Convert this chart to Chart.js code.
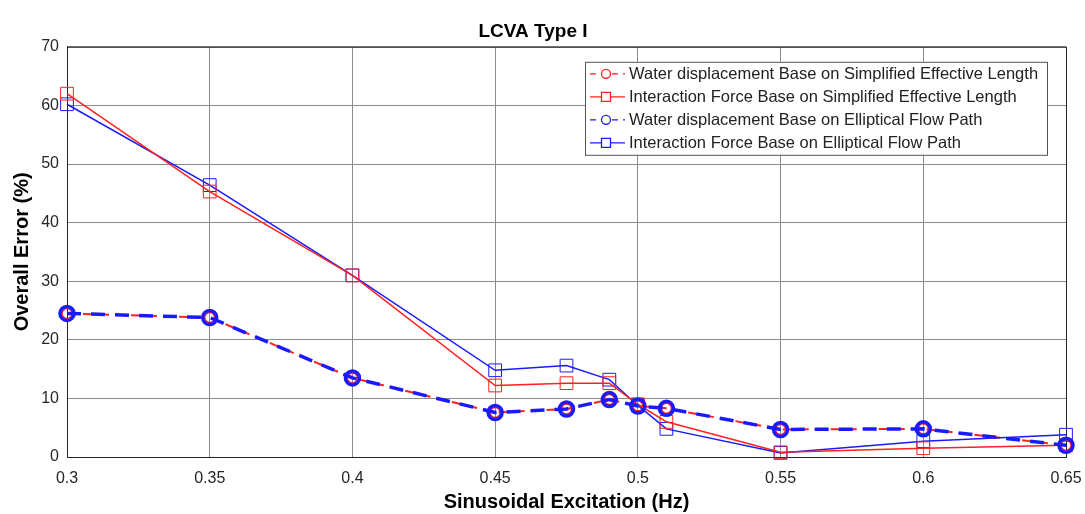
<!DOCTYPE html>
<html>
<head>
<meta charset="utf-8">
<script src="https://cdn.jsdelivr.net/npm/chart.js@4.4.1/dist/chart.umd.min.js"></script>
<style>
  body { margin: 0; background: #fff; }
  #contenedor { width: 1085px; height: 514px; }
</style>
</head>
<body>
<div id="contenedor"><canvas id="graficoError"></canvas></div>
<script>
// Datos
const frecuencias = [0.3, 0.35, 0.4, 0.45, 0.475, 0.49, 0.5, 0.51, 0.55, 0.6, 0.65];
const aguaSimplificada = [24.5, 23.8, 13.5, 7.6, 8.2, 9.8, 8.7, 8.3, 4.7, 4.8, 2.0];
const fuerzaSimplificada = [62.0, 45.3, 31.0, 12.2, 12.6, 12.6, 9.0, 6.0, 0.8, 1.5, 2.0];
const aguaEliptica = [24.5, 23.8, 13.5, 7.6, 8.2, 9.8, 8.7, 8.3, 4.7, 4.8, 2.0];
const fuerzaEliptica = [60.2, 46.4, 31.0, 14.8, 15.6, 13.2, 8.8, 4.8, 0.7, 2.7, 3.8];
const ticksX = [0.3, 0.35, 0.4, 0.45, 0.5, 0.55, 0.6, 0.65];
const ticksY = [0, 10, 20, 30, 40, 50, 60, 70];

const fuente = '"Liberation Sans", Arial, sans-serif';
const ROJO = '#ff2020';
const AZUL = '#1a1aff';

function puntos(valores) {
    return frecuencias.map((f, i) => ({ x: f, y: valores[i] }));
}

// Leyenda dentro del area del grafico (arriba a la derecha)
const leyendaInterna = {
    id: 'leyendaInterna',
    afterDraw(chart) {
        const ctx = chart.ctx;
        const area = chart.chartArea;
        const ancho = 462, alto = 93;
        const x0 = area.right - 19 - ancho;
        const y0 = area.top + 15;
        ctx.save();
        ctx.fillStyle = '#fff';
        ctx.fillRect(x0, y0, ancho, alto);
        ctx.strokeStyle = '#555';
        ctx.lineWidth = 1;
        ctx.strokeRect(x0 + 0.5, y0 + 0.5, ancho, alto);
        ctx.font = '16.5px ' + fuente;
        ctx.textBaseline = 'middle';
        chart.data.datasets.forEach((ds, i) => {
            const y = y0 + 12 + i * 23;
            const color = ds.borderColor;
            ctx.strokeStyle = color;
            ctx.lineWidth = 1.3;
            ctx.setLineDash(ds.borderDash && ds.borderDash.length ? [6, 5] : []);
            ctx.beginPath();
            ctx.moveTo(x0 + 5, y);
            ctx.lineTo(x0 + 40, y);
            ctx.stroke();
            ctx.setLineDash([]);
            ctx.fillStyle = '#fff';
            ctx.beginPath();
            if (ds.pointStyle === 'circle') {
                ctx.arc(x0 + 21, y, 4.5, 0, Math.PI * 2);
            } else {
                ctx.rect(x0 + 16.5, y - 4.5, 9, 9);
            }
            ctx.fill();
            ctx.stroke();
            ctx.fillStyle = '#222';
            ctx.fillText(ds.label, x0 + 44, y + 1);
        });
        ctx.restore();
    }
};

// Marco completo del area de trazado
const marco = {
    id: 'marco',
    beforeDatasetsDraw(chart) {
        const a = chart.chartArea;
        const ctx = chart.ctx;
        ctx.save();
        ctx.strokeStyle = '#262626';
        ctx.lineWidth = 1;
        ctx.strokeRect(a.left + 0.5, a.top + 0.5, a.right - a.left, a.bottom - a.top);
        ctx.restore();
    }
};

const ctx = document.getElementById('graficoError').getContext('2d');
window.grafico = new Chart(ctx, {
    type: 'scatter',
    data: {
        datasets: [
            {
                label: 'Water displacement Base on Simplified Effective Length',
                data: puntos(aguaSimplificada),
                showLine: true,
                clip: false,
                borderColor: ROJO,
                backgroundColor: 'rgba(255,255,255,0)',
                borderWidth: 2,
                borderDash: [10, 6],
                pointStyle: 'circle',
                pointRadius: 5,
                pointBorderWidth: 1.5,
                order: 2
            },
            {
                label: 'Interaction Force Base on Simplified Effective Length',
                data: puntos(fuerzaSimplificada),
                showLine: true,
                clip: false,
                borderColor: ROJO,
                backgroundColor: 'rgba(255,255,255,0)',
                borderWidth: 1.5,
                pointStyle: 'rect',
                pointRadius: 9,
                pointBorderWidth: 1,
                order: 1
            },
            {
                label: 'Water displacement Base on Elliptical Flow Path',
                data: puntos(aguaEliptica),
                showLine: true,
                clip: false,
                borderColor: AZUL,
                backgroundColor: 'rgba(255,255,255,0)',
                borderWidth: 3.5,
                borderDash: [14, 10],
                pointStyle: 'circle',
                pointRadius: 7,
                pointBorderWidth: 3.5,
                order: 0
            },
            {
                label: 'Interaction Force Base on Elliptical Flow Path',
                data: puntos(fuerzaEliptica),
                showLine: true,
                clip: false,
                borderColor: AZUL,
                backgroundColor: 'rgba(255,255,255,0)',
                borderWidth: 1.5,
                pointStyle: 'rect',
                pointRadius: 9,
                pointBorderWidth: 1,
                order: 1
            }
        ]
    },
    options: {
        responsive: true,
        maintainAspectRatio: false,
        animation: false,
        layout: { padding: { left: 0, right: 19, top: 0, bottom: 0 } },
        plugins: {
            legend: { display: false },
            tooltip: { enabled: false },
            title: {
                display: true,
                text: 'LCVA Type I',
                color: '#000',
                font: { family: fuente, size: 19, weight: 'bold' },
                padding: { top: 20, bottom: 4 }
            }
        },
        scales: {
            x: {
                type: 'linear',
                min: 0.3,
                max: 0.65,
                afterBuildTicks: scale => { scale.ticks = ticksX.map(v => ({ value: v })); },
                afterFit: scale => {
                    scale.height = 57;
                    scale.paddingLeft = 0;
                    scale.paddingRight = 0;
                },
                grid: { color: '#8a8a8a', drawTicks: false },
                border: { color: '#262626' },
                ticks: {
                    color: '#262626',
                    padding: 12,
                    font: { family: fuente, size: 16 },
                    maxRotation: 0,
                    callback: v => String(Number(v.toFixed(2)))
                },
                title: {
                    display: true,
                    text: 'Sinusoidal Excitation (Hz)',
                    color: '#000',
                    font: { family: fuente, size: 20, weight: 'bold' },
                    padding: { top: 0, bottom: 0 }
                }
            },
            y: {
                min: 0,
                max: 70,
                afterBuildTicks: scale => { scale.ticks = ticksY.map(v => ({ value: v })); },
                afterFit: scale => { scale.width = 67; },
                grid: { color: '#8a8a8a', drawTicks: false },
                border: { color: '#262626' },
                ticks: {
                    color: '#262626',
                    padding: 8,
                    font: { family: fuente, size: 16 }
                },
                title: {
                    display: true,
                    text: 'Overall Error (%)',
                    color: '#000',
                    font: { family: fuente, size: 20, weight: 'bold' },
                    padding: { top: 10, bottom: 0 }
                }
            }
        }
    },
    plugins: [marco, leyendaInterna]
});
</script>
</body>
</html>
